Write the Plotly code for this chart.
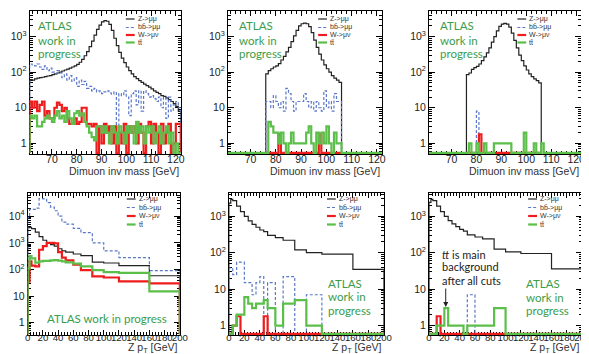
import plotly.graph_objects as go

W, H = 589, 354

# ---------------- data ----------------
# top row: dimuon invariant mass, 1 GeV bins (61..122 GeV)
mass_edges = list(range(61, 123))
# histograms after the Z mass window cut (76..106 GeV)
window_edges = list(range(76, 107))

# before cuts (one value per 1 GeV bin, 61..121)
z_mass_all = [62, 60, 65, 68, 70, 72, 75, 78, 80, 85, 90, 95, 100, 108, 115, 122, 130, 140, 150, 165,
              190, 230, 290, 380, 520, 750, 1100, 1600, 2100, 2600, 2800, 2700, 2200, 1500, 900, 560, 360, 250, 185, 140,
              110, 90, 75, 66, 58, 52, 46, 42, 38, 34, 30, 27, 25, 22, 21, 19, 17, 15, 13, 11, 8]
bb_mass_all = [170, 160, 150, 170, 140, 120, 150, 110, 130, 100, 90, 110, 95, 70, 90, 60, 80, 55, 70, 40,
               60, 45, 55, 35, 40, 30, 35, 28, 30, 25, 28, 30, 26, 24, 28, 0, 25, 22, 30, 20,
               6, 25, 30, 12, 30, 8, 30, 25, 20, 22, 18, 15, 20, 10, 20, 5, 20, 8, 12, 15, 10]
w_mass_all = [15, 10, 15, 8, 12, 15, 6, 8, 5, 5, 10, 14, 12, 8, 10, 5, 3.5, 3.5, 5, 3.5,
              4, 10, 10, 3.5, 3.5, 3, 3.5, 0, 3, 1, 3.5, 2, 3, 1, 3, 0, 2, 1, 3.5, 0,
              3, 2, 3, 1, 3.5, 2, 0, 3, 4, 1, 3.5, 2, 0, 3.5, 1, 2, 3.5, 0, 1, 3.5, 3.5]
tt_mass_all = [6, 5, 6, 3, 3, 4, 5, 6, 5, 4, 6, 8, 5, 6, 4, 8, 5, 3.5, 7, 8,
               6, 7, 4, 3, 2, 1.5, 1.2, 3, 3, 2, 3, 2, 1, 3, 2, 1, 3, 2, 1, 3,
               2, 3, 1, 4, 2, 3, 1, 3, 2, 3, 1, 2, 3, 1, 2, 3, 1, 2, 0, 1, 0]

# after mass window (76..105 bins)
z_mass_cut = [90, 110, 125, 140, 150, 175, 220, 280, 370, 500, 720, 1050, 1500, 2000, 2300,
              2400, 2300, 1900, 1300, 800, 500, 320, 220, 160, 125, 100, 80, 68, 60, 52]
bb_mass_cut = [15, 15, 10, 22, 15, 10, 15, 8, 35, 25, 15, 8, 15, 15, 15,
               25, 15, 10, 15, 8, 15, 10, 8, 30, 10, 15, 8, 25, 15, 15]
w_mass_cut = [0, 0, 0, 0, 0, 1.8, 0, 0, 0, 0, 0, 0, 0, 0, 0,
              0, 0, 0, 0, 0, 0, 1.8, 0, 0, 0, 0, 0, 0, 0, 0]
tt_mass_cut = [0, 0, 0, 0, 0, 0, 0, 0, 0, 0, 0, 0, 0, 0, 0, 0,
               4, 3, 2, 2, 1, 2, 1, 0, 1, 2, 1, 1, 1, 1, 1, 2, 3, 1, 0, 2, 1, 2, 1, 3, 1, 0, 2, 1, 1,
               0, 0, 0, 0, 0, 0, 0, 0, 0, 0, 0, 0, 0, 0, 0, 0]

# after all cuts
z_mass_fin = [85, 95, 120, 135, 145, 170, 210, 270, 350, 480, 700, 1000, 1450, 1950, 2250,
              2350, 2250, 1850, 1250, 780, 480, 300, 210, 150, 115, 90, 75, 65, 58, 50]
bb_mass_fin = [0, 0, 0, 0, 8, 0, 0, 0, 0, 0, 0, 0, 0, 0, 0,
               0, 0, 0, 0, 0, 0, 0, 0, 0, 0, 0, 0, 0, 0, 0]
w_mass_fin = [0, 0, 0, 0, 0, 1.8, 0, 0, 0, 0, 0, 0, 0, 0, 0,
              0, 0, 0, 0, 0, 0, 0, 0, 0, 0, 0, 0, 0, 0, 0]
tt_mass_fin = [0, 0, 0, 0, 0, 0, 0, 0, 0, 0, 0, 0, 0, 0, 0, 0,
               1, 0, 0, 1, 0, 0, 1, 0, 0, 0, 1, 1, 1, 1, 1, 1, 1, 0, 0, 0, 0, 0, 2, 0, 0, 0, 1, 0, 0, 1,
               0, 0, 0, 0, 0, 0, 0, 0, 0, 0, 0, 0, 0, 0, 0]

# bottom row: Z pT, variable bins
pt_edges = [0, 2.5, 5, 10, 15, 20, 25, 30, 35, 40, 45, 50, 60, 70, 85, 100, 120, 160, 200]

z_pt_all = [3700, 3800, 3400, 2500, 1700, 1250, 950, 850, 750, 600, 500, 450, 380, 330, 190, 175, 140, 58]
bb_pt_all = [9000, 18000, 18000, 20000, 46000, 45000, 32000, 22000, 16000, 10000, 6000, 5000, 3500, 2400, 1000, 500, 280, 90]
w_pt_all = [35, 200, 140, 130, 550, 750, 1000, 1000, 950, 450, 280, 220, 150, 95, 55, 50, 36, 30]
tt_pt_all = [110, 320, 260, 180, 200, 210, 210, 220, 225, 215, 200, 185, 165, 130, 95, 80, 75, 15]

z_pt_cut = [2300, 2900, 2700, 1900, 1350, 1000, 750, 600, 500, 420, 380, 300, 260, 220, 120, 100, 92, 35]
bb_pt_cut = [38, 38, 25, 55, 55, 15, 15, 7, 15, 22, 0, 15, 0, 22, 0, 7, 0, 0]
w_pt_cut = [0, 0, 1, 1.8, 0, 0, 0, 0, 0, 0, 1.8, 0, 0, 0, 0, 0, 0, 0]
tt_pt_cut = [0, 0, 1, 2, 2, 6, 4, 3, 4, 4, 5, 3, 1, 4, 5, 1, 0, 0]

z_pt_fin = [2400, 2900, 2700, 1900, 1350, 1000, 760, 620, 520, 440, 390, 310, 270, 240, 125, 105, 95, 36]
bb_pt_fin = [0, 0, 0, 0, 0, 0, 0, 0, 0, 0, 0, 7, 0, 0, 0, 0, 0, 0]
w_pt_fin = [0, 0, 0, 1.8, 0, 0, 0, 0, 0, 0, 0, 0, 0, 0, 0, 0, 0, 0]
tt_pt_fin = [0, 0, 0, 1, 1, 3, 1, 1, 1, 1, 0, 1, 1, 1, 3, 0, 0, 0]

legend_labels = ["Z->\u03bc\u03bc", "bb\u0304->\u03bc\u03bc", "W->\u03bc\u03bd", "tt\u0304"]

# ---------------- style ----------------
C_Z, C_BB, C_W, C_TT = "#222222", "#5a78c8", "#ee1c1c", "#5cbf4a"
GREEN_TXT = "#3a9d4c"
STYLES = [
    dict(color=C_Z, width=1.2),
    dict(color=C_BB, width=1.2, dash="3px,2px"),
    dict(color=C_W, width=2.2),
    dict(color=C_TT, width=2.2),
]

# paper-pixel layout: (left, right, top, bottom) of each frame
frames = [(19, 173, 3, 146), (221, 378, 3, 146), (426, 581, 3, 146),
          (17, 172, 185, 327), (222, 380, 185, 327), (426, 582, 185, 327)]
ylog = [(-0.3, 3.72), (-0.3, 3.72), (-0.3, 3.72),
        (-0.46, 4.87), (-0.26, 3.64), (-0.26, 3.64)]


def px(x):
    return x / W


def py(y):
    return 1 - y / H


def step_xy(edges, vals, floor):
    ys = [v if v > 0 else floor for v in vals]
    return [edges[0]] + list(edges), [floor] + ys + [floor]


panels = [
    [(mass_edges, z_mass_all), (mass_edges, bb_mass_all), (mass_edges, w_mass_all), (mass_edges, tt_mass_all)],
    [(window_edges, z_mass_cut), (window_edges, bb_mass_cut), (window_edges, w_mass_cut), (mass_edges, tt_mass_cut)],
    [(window_edges, z_mass_fin), (window_edges, bb_mass_fin), (window_edges, w_mass_fin), (mass_edges, tt_mass_fin)],
    [(pt_edges, z_pt_all), (pt_edges, bb_pt_all), (pt_edges, w_pt_all), (pt_edges, tt_pt_all)],
    [(pt_edges, z_pt_cut), (pt_edges, bb_pt_cut), (pt_edges, w_pt_cut), (pt_edges, tt_pt_cut)],
    [(pt_edges, z_pt_fin), (pt_edges, bb_pt_fin), (pt_edges, w_pt_fin), (pt_edges, tt_pt_fin)],
]

fig = go.Figure()
layout = {}
yfont = dict(family="Liberation Sans, Arial", size=10.5, color="#222")

for i, series in enumerate(panels):
    n = "" if i == 0 else str(i + 1)
    lo, hi = ylog[i]
    floor = 10 ** lo * 1.07
    for (edges, vals), st in zip(series, STYLES):
        xs, ys = step_xy(edges, vals, floor)
        fig.add_trace(go.Scatter(x=xs, y=ys, mode="lines", line=dict(shape="hv", **st),
                                 xaxis="x" + n, yaxis="y" + n, showlegend=False, hoverinfo="skip"))
    l, r, t, b = frames[i]
    top_row = i < 3
    layout["xaxis" + n] = dict(
        domain=[px(l), px(r)], anchor="y" + n,
        range=[61, 122] if top_row else [0, 200],
        tick0=0, dtick=10 if top_row else 20, tickangle=0,
        showline=True, mirror="allticks", linecolor="black", linewidth=1,
        ticks="inside", ticklen=5, tickcolor="black", showgrid=False, zeroline=False,
        tickfont=dict(family="Liberation Sans, Arial", size=10.5 if top_row else 9.6, color="#222"),
        ticklabelstandoff=-5 if top_row else -7, layer="below traces",
        minor=dict(ticks="inside", ticklen=3, tick0=0, dtick=2 if top_row else 4,
                   tickcolor="black", showgrid=False),
    )
    decades = [d for d in range(0, 5) if lo <= d <= hi]
    minor_vals = [m * 10 ** d for d in range(-1, 5) for m in range(2, 10)
                  if 10 ** lo <= m * 10 ** d <= 10 ** hi]
    layout["yaxis" + n] = dict(
        domain=[py(b), py(t)], anchor="x" + n, type="log", range=[lo, hi],
        tickvals=[10 ** d for d in decades],
        ticktext=["1" if d == 0 else "10" if d == 1 else "10<sup>%d</sup>" % d for d in decades],
        showline=True, mirror="allticks", linecolor="black", linewidth=1,
        ticks="inside", ticklen=6, tickcolor="black", showgrid=False, zeroline=False,
        tickfont=yfont, layer="below traces",
        minor=dict(ticks="inside", ticklen=3, tickvals=minor_vals, tickcolor="black", showgrid=False),
    )

annotations = []
shapes = []

# legends
leg_x = [117, 313, 516, 118, 322, 527]
leg_rows_top = [11, 19.5, 27, 34.5]
leg_rows_bot = [191, 199.5, 208, 216.5]
for i in range(6):
    rows = leg_rows_top if i < 3 else leg_rows_bot
    x0 = leg_x[i]
    for lab, st, yy in zip(legend_labels, STYLES, rows):
        shapes.append(dict(type="line", xref="paper", yref="paper", x0=px(x0), x1=px(x0 + 9),
                           y0=py(yy), y1=py(yy),
                           line=dict(color=st["color"], width=st["width"], dash=st.get("dash", "solid"))))
        annotations.append(dict(x=px(x0 + 10), y=py(yy), xref="paper", yref="paper", text=lab,
                                showarrow=False, xanchor="left", yanchor="middle",
                                font=dict(family="Liberation Sans, Arial", size=7, color="#333")))

# axis titles
for i in range(6):
    l, r, t, b = frames[i]
    if i < 3:
        annotations.append(dict(x=px(r), y=py(155), xref="paper", yref="paper",
                                text="Dimuon inv mass [GeV]", showarrow=False,
                                xanchor="right", yanchor="top",
                                font=dict(family="Liberation Sans, Arial", size=10.5, color="#333")))
    else:
        annotations.append(dict(x=px(r), y=py(349), xref="paper", yref="paper",
                                text="Z p<sub>T</sub> [GeV]", showarrow=False,
                                xanchor="right", yanchor="bottom",
                                font=dict(family="Liberation Sans, Arial", size=10.5, color="#333")))

# ATLAS labels
atlas_font = dict(family="Lato, Open Sans", size=11.5, color=GREEN_TXT)
for x0, ys in [(25, (18, 32, 45)), (230, (18, 32, 45)), (435, (18, 32, 45)),
               (321, (275, 288.5, 302)), (523, (275, 289, 302))]:
    for txt, yy in zip(["ATLAS", "work in", "progress"], ys):
        annotations.append(dict(x=px(x0), y=py(yy), xref="paper", yref="paper", text=txt,
                                showarrow=False, xanchor="left", yanchor="middle", font=atlas_font))
annotations.append(dict(x=px(35), y=py(310), xref="paper", yref="paper", text="ATLAS work in progress",
                        showarrow=False, xanchor="left", yanchor="middle", font=atlas_font))

# note in last panel
note_font = dict(family="Lato, Open Sans", size=11, color="#222")
for txt, yy in zip(["<i>tt</i> is main", "background", "after all cuts"], [246, 258.5, 272.5]):
    annotations.append(dict(x=px(437), y=py(yy), xref="paper", yref="paper", text=txt,
                            showarrow=False, xanchor="left", yanchor="middle", font=note_font))
annotations.append(dict(x=px(443), y=py(299), xref="paper", yref="paper", text="",
                        showarrow=True, ax=0, ay=-20, arrowhead=2, arrowsize=1, arrowwidth=1,
                        arrowcolor="#222"))

fig.update_layout(
    width=W, height=H, margin=dict(l=0, r=0, t=0, b=0),
    paper_bgcolor="white", plot_bgcolor="white", showlegend=False,
    annotations=annotations, shapes=shapes, **layout,
)

fig.write_html("out.html")
